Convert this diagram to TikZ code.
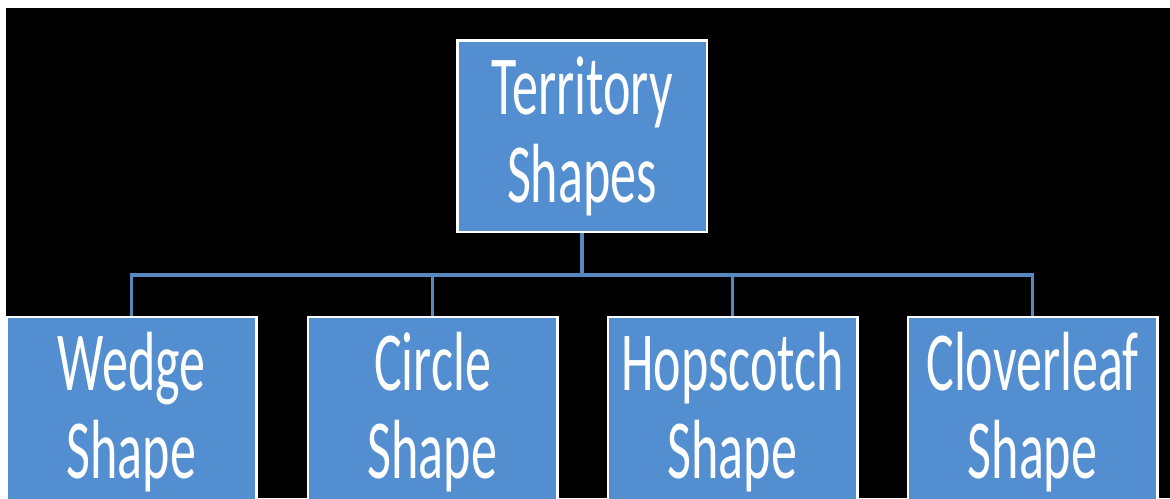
\documentclass[tikz,border=0pt]{standalone}
\usepackage{fontspec}
\usetikzlibrary{backgrounds}
\setmainfont[FakeStretch=0.62]{Carlito}
\definecolor{boxblue}{RGB}{83,142,208}
\definecolor{linkblue}{RGB}{88,136,192}
\begin{document}
\begin{tikzpicture}[x=1pt,y=-1pt,
  shapebox/.style={draw=white, line width=2.5pt, fill=boxblue, rectangle,
    minimum width=249.5pt, minimum height=191.5pt, inner sep=0pt,
    align=center, text=white, font=\fontsize{84}{88}\selectfont},
  link/.style={draw=linkblue, line width=3.8pt}]
  \useasboundingbox (0,0) rectangle (1170,498);

  % root of the hierarchy
  \node[shapebox] (root) at (582,136) {Territory\\Shapes};

  % second level, the lower part runs past the page edge
  \begin{scope}
    \clip (0,0) rectangle (1170,498);
    \node[shapebox] (wedge)  at (131.5,412.5)  {Wedge\\Shape};
    \node[shapebox] (circle) at (432.5,412.5)  {Circle\\Shape};
    \node[shapebox] (hop)    at (732.5,412.5)  {Hopscotch\\Shape};
    \node[shapebox] (clover) at (1032.5,412.5) {Cloverleaf\\Shape};
  \end{scope}

  \begin{pgfonlayer}{background}
    % page: white strip at top and left, black ground elsewhere
    \fill[white] (0,0) rectangle (1170,498);
    \fill[black] (6,8) rectangle (1170,498);
    % elbow connectors from the root to each child, under the box borders
    \foreach \c in {wedge,circle,hop,clover}
      \draw[link] (root.south) -- ++(0,42) -| (\c.north);
  \end{pgfonlayer}
\end{tikzpicture}
\end{document}
